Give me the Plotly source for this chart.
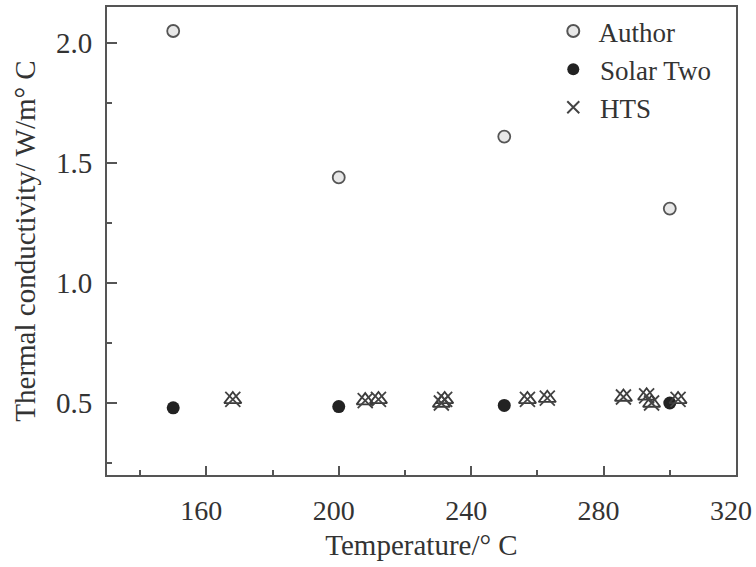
import plotly.graph_objects as go

author_T = [150, 200, 250, 300]
author_k = [2.05, 1.44, 1.61, 1.31]

solar_T = [150, 200, 250, 300]
solar_k = [0.48, 0.485, 0.49, 0.50]

hts_T = [168, 208, 212, 231, 232, 257, 263, 286, 293, 294.5, 302.5]
hts_k = [0.515, 0.51, 0.515, 0.50, 0.515, 0.515, 0.52, 0.525, 0.53, 0.50, 0.515]

x_ticks = [160, 200, 240, 280, 320]
y_ticks = [0.5, 1.0, 1.5, 2.0]

FONT = "Liberation Serif"
AX = "#555555"

fig = go.Figure()
fig.add_trace(go.Scatter(
    x=author_T, y=author_k, mode="markers", name=" Author",
    marker=dict(symbol="circle", size=12, color="#e8e8e8",
                line=dict(color="#555555", width=1.8)),
))
fig.add_trace(go.Scatter(
    x=solar_T, y=solar_k, mode="markers", name=" Solar Two",
    marker=dict(symbol="circle", size=13, color="#222222",
                line=dict(color="#222222", width=0)),
))
fig.add_trace(go.Scatter(
    x=hts_T, y=hts_k, mode="markers", name="HTS_tri", legendgroup="hts",
    showlegend=False,
    marker=dict(symbol="triangle-up-open", size=15, color="#3a3a3a",
                line=dict(color="#3a3a3a", width=1.8)),
))
fig.add_trace(go.Scatter(
    x=hts_T, y=hts_k, mode="markers", name=" HTS", legendgroup="hts",
    marker=dict(symbol="x-thin-open", size=15, color="#444444",
                line=dict(color="#444444", width=1.8)),
))

fig.update_layout(
    width=756, height=567,
    margin=dict(l=107, r=20, t=7, b=92, autoexpand=False),
    paper_bgcolor="white", plot_bgcolor="white",
    font=dict(family=FONT, size=29, color="#333333"),
    showlegend=True,
    legend=dict(x=0.7095, y=1.0, xanchor="left", yanchor="top",
                bgcolor="rgba(0,0,0,0)", font=dict(size=27, family=FONT),
                tracegroupgap=0, itemsizing="constant"),
    xaxis=dict(
        range=[130, 320], tickmode="array", tickvals=x_ticks,
        automargin=False, ticklabeloverflow="allow",
        tickfont=dict(size=28, family=FONT),
        ticklabelshift=-5,
        ticks="inside", ticklen=9, tickwidth=2, tickcolor=AX,
        minor=dict(tickmode="array", tickvals=[140, 180, 220, 260, 300],
                   ticks="inside", ticklen=5, tickwidth=2, tickcolor=AX),
        showline=True, linecolor=AX, linewidth=2, mirror=True,
        showgrid=False, zeroline=False,
        ticklabelstandoff=9,
        title=dict(text="Temperature/° C", standoff=10,
                   font=dict(size=29, family=FONT)),
    ),
    yaxis=dict(
        range=[0.2, 2.15], tickmode="array", tickvals=y_ticks,
        ticktext=["0.5", "1.0", "1.5", "2.0"],
        automargin=False, ticklabeloverflow="allow",
        ticks="inside", ticklen=10, tickwidth=2, tickcolor=AX,
        minor=dict(tickmode="array", tickvals=[0.25, 0.75, 1.25, 1.75],
                   ticks="inside", ticklen=5, tickwidth=2, tickcolor=AX),
        showline=True, linecolor=AX, linewidth=2, mirror=True,
        showgrid=False, zeroline=False,
        ticklabelstandoff=7,
        title=dict(text="Thermal conductivity/ W/m° C", standoff=12,
                   font=dict(size=29, family=FONT)),
    ),
)

fig.write_html("out.html")
